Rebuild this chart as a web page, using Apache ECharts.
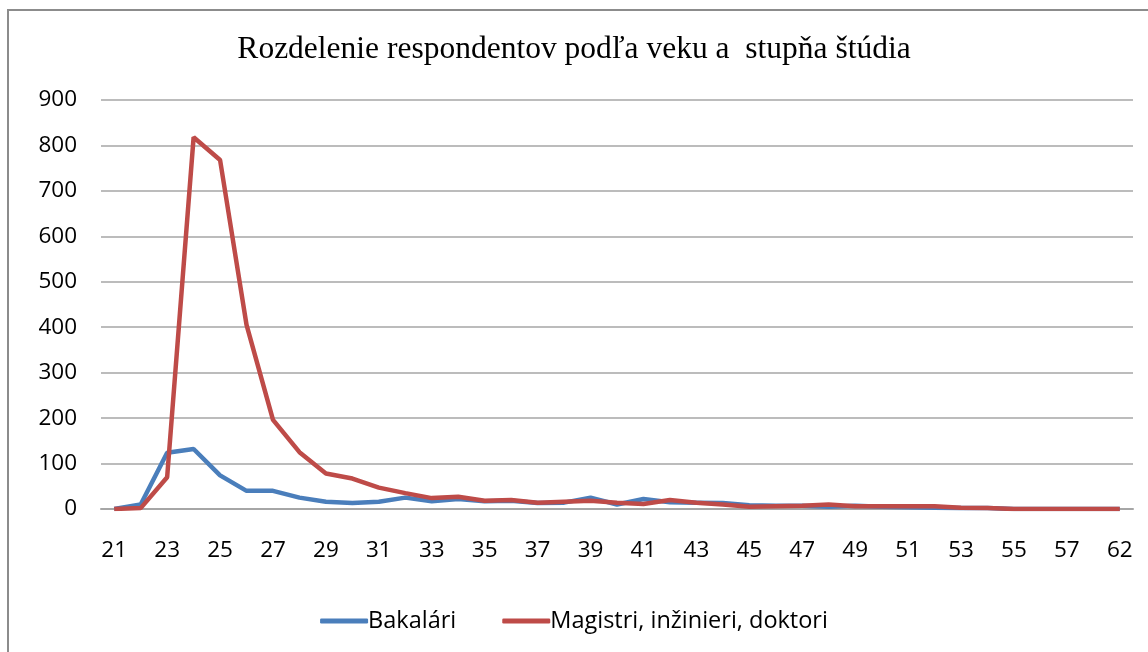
<!DOCTYPE html>
<html>
<head>
<meta charset="utf-8">
<script src="https://cdn.jsdelivr.net/npm/echarts@6/dist/echarts.min.js"></script>
<style>
  html, body { margin: 0; padding: 0; background: #fff; }
  #frame { position: absolute; left: 7px; top: 9px; width: 1150px; height: 650px; border: 2px solid #8c8c8c; box-sizing: border-box; }
  #main { position: absolute; left: 0; top: 0; width: 1148px; height: 652px; }
</style>
</head>
<body>
<div id="frame"></div>
<div id="main"></div>
<script>
// vek respondentov
const ages = ['21','22','23','24','25','26','27','28','29','30','31','32','33','34','35','36','37','38','39','40',
  '41','42','43','44','45','46','47','48','49','50','51','52','53','54','55','56','57','58','62'];
const bakalari = [0, 10, 124, 132, 74, 40, 40, 25, 16, 13, 16, 25, 17, 22, 17, 18, 13, 14, 25, 10,
  22, 15, 14, 13, 8, 7, 7, 5, 7, 5, 4, 3, 2, 2, 0, 0, 0, 0, 0];
const magistri = [0, 2, 70, 818, 768, 405, 196, 125, 78, 67, 47, 35, 24, 27, 18, 20, 14, 16, 18, 14,
  11, 20, 14, 10, 5, 6, 7, 10, 6, 6, 6, 6, 3, 2, 0, 0, 0, 0, 0];
const yTicks = [0, 900, 100];

const myChart = echarts.init(document.getElementById('main'));
const option = {
  animation: false,
  title: {
    text: 'Rozdelenie respondentov podľa veku a  stupňa štúdia',
    left: 'center',
    top: 29,
    textStyle: { fontFamily: 'Liberation Serif', fontSize: 31.5, fontWeight: 'normal', color: '#000' }
  },
  legend: {
    bottom: 14,
    left: 'center',
    itemWidth: 48,
    itemHeight: 5,
    itemGap: 46,
    icon: 'roundRect',
    textStyle: { fontFamily: 'Open Sans', fontSize: 23.5, color: '#000', padding: [0, 0, 0, -5] },
    data: ['Bakalári', 'Magistri, inžinieri, doktori']
  },
  grid: { left: 101, right: 15, top: 100, bottom: 143 },
  xAxis: {
    type: 'category',
    data: ages,
    boundaryGap: true,
    axisLine: { lineStyle: { color: '#a6a6a6', width: 2 } },
    axisTick: { show: false },
    axisLabel: { interval: 1, margin: 30, fontFamily: 'Open Sans', fontSize: 22.5, color: '#000' }
  },
  yAxis: {
    type: 'value',
    min: yTicks[0],
    max: yTicks[1],
    interval: yTicks[2],
    axisLine: { show: false },
    axisTick: { show: false },
    axisLabel: { margin: 24, fontFamily: 'Open Sans', fontSize: 22.5, color: '#000' },
    splitLine: { lineStyle: { color: '#a6a6a6', width: 1.5 } }
  },
  series: [
    {
      name: 'Bakalári',
      type: 'line',
      data: bakalari,
      symbol: 'none',
      color: '#4a7ebb',
      lineStyle: { width: 4.5, color: '#4a7ebb' }
    },
    {
      name: 'Magistri, inžinieri, doktori',
      type: 'line',
      data: magistri,
      symbol: 'none',
      color: '#be4b48',
      lineStyle: { width: 4.5, color: '#be4b48' }
    }
  ]
};
myChart.setOption(option);
window.onresize = function () {
  myChart.resize();
};
</script>
</body>
</html>
